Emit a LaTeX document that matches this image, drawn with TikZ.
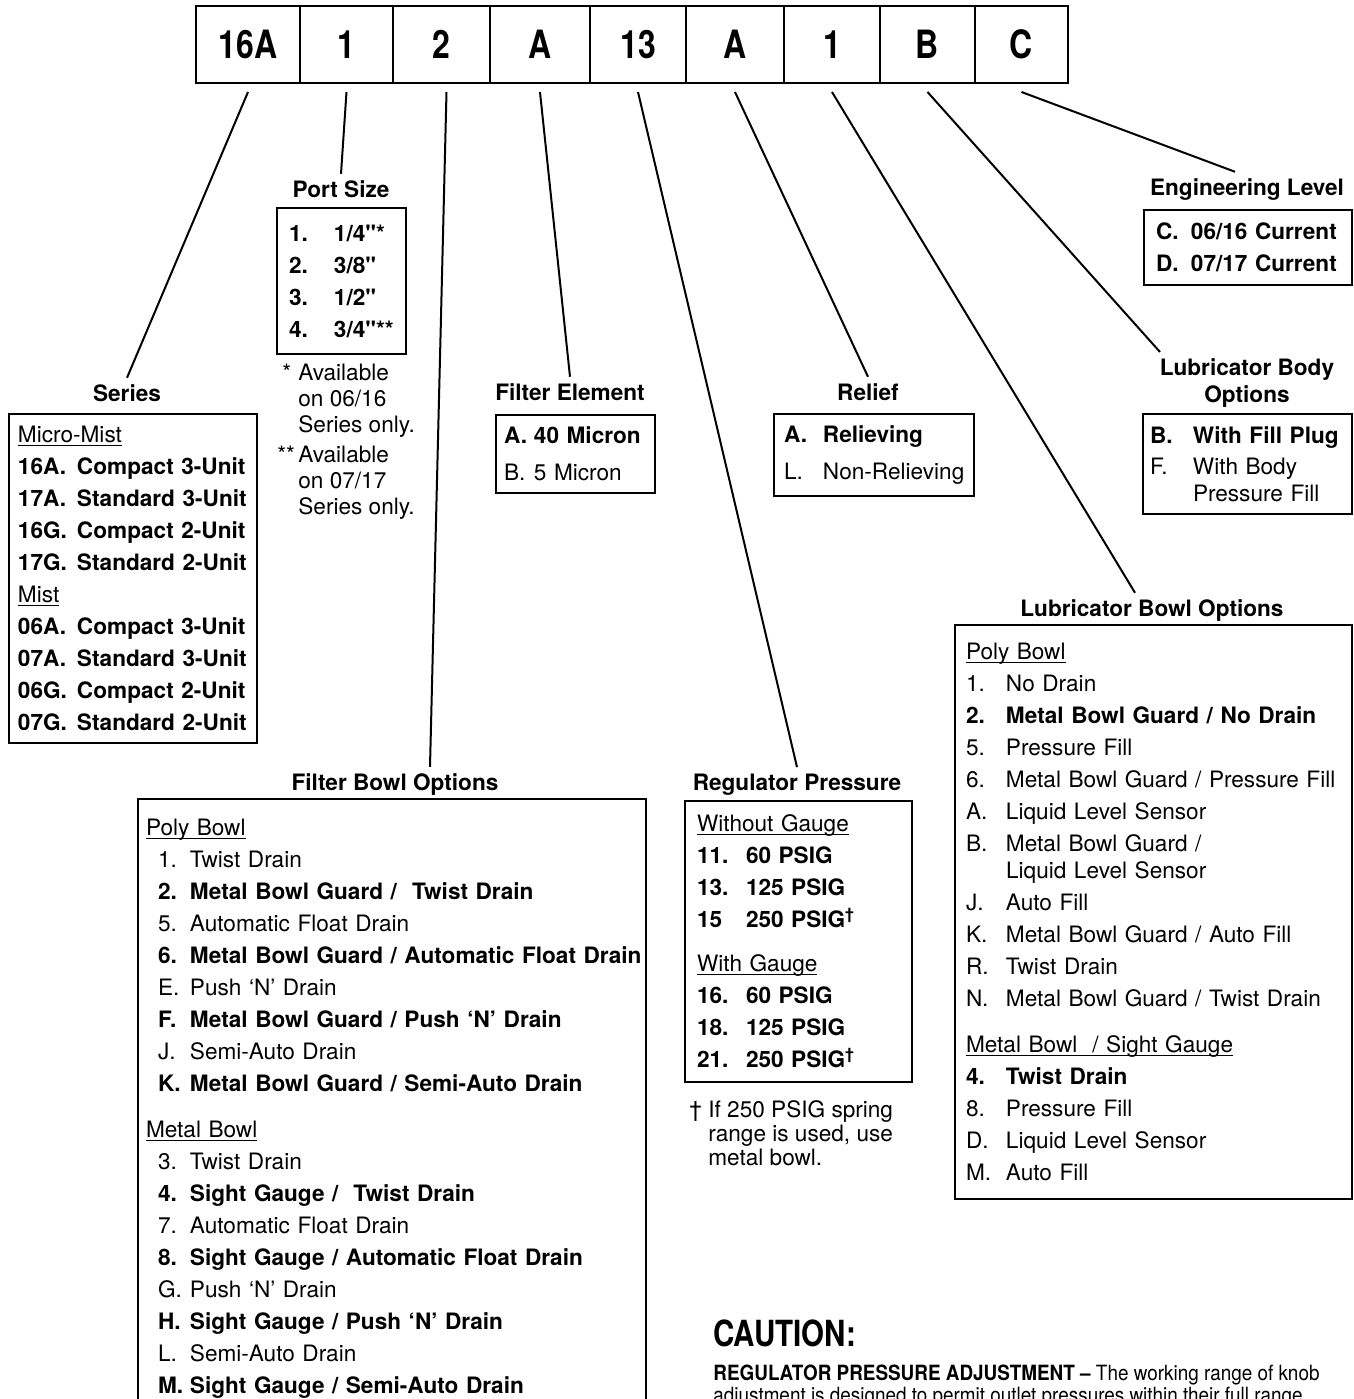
\documentclass[tikz,border=0pt]{standalone}
\usepackage{fontspec}
\setmainfont{TeX Gyre Heros}
\newfontfamily\condfont[FakeStretch=0.82]{TeX Gyre Heros}
\newfontfamily\narrowfont[FakeStretch=0.9]{TeX Gyre Heros}
\usetikzlibrary{positioning}

% one option line: fixed-width label, then the text
\newlength{\itmw}
\newcommand{\itm}[2]{\makebox[\itmw][l]{#1}\mbox{#2}}
\newcommand{\bitm}[2]{\textbf{\itm{#1}{#2}}}
% group heading, underlined close to the baseline
\newcommand{\grp}[1]{\underline{\raisebox{0pt}[\height][0pt]{#1}}}
\newcommand{\inch}{\textquotedbl}

\begin{document}
\begin{tikzpicture}[x=0.5pt, y=-0.5pt]
	\tikzstyle{codebox} = [draw, line width=1.3pt, minimum height=38.5pt, inner sep=0pt, outer sep=0pt, font=\condfont\bfseries\fontsize{19.5}{20}\selectfont]
	\tikzstyle{title} = [anchor=base, inner sep=3pt, align=center, font=\bfseries\fontsize{11.3}{13.5}\selectfont]
	\tikzstyle{optbox} = [draw, line width=1pt, anchor=north west, inner xsep=5pt, inner ysep=4pt, align=left, font=\fontsize{11.3}{16}\selectfont]
	\tikzstyle{note} = [anchor=north west, inner sep=0pt, align=left, font=\fontsize{11.3}{13}\selectfont]
	\tikzstyle{lead} = [line width=1pt]
	\useasboundingbox (0,0) rectangle (1354,1399);

	% the model code
	\coordinate (c0) at (196,44.5);
	\foreach \code/\w [count=\i, remember=\i as \j (initially 0)] in {16A/52, 1/46.5, 2/48.5, A/50, 13/48, A/49, 1/48, B/47.5, C/46.5}
		\node[codebox, minimum width=\w pt, right=0pt of c\j] (c\i) {\code};

	% headings
	\node[title] (serT) at (127,401) {Series};
	\node[title] (portT) at (341,197) {Port Size};
	\node[title] (felT) at (570,400) {Filter Element};
	\node[title] (relT) at (868,400) {Relief};
	\node[title] (engT) at (1247,195) {Engineering Level};
	\node[title, anchor=north] (lbodyT) at (1247,352) {Lubricator Body\\Options};
	\node[title] (lbowlT) at (1152,616) {Lubricator Bowl Options};
	\node[title] (fbowlT) at (395,790) {Filter Bowl Options};
	\node[title] (regT) at (797,790) {Regulator Pressure};

	% option boxes
	\node[optbox, inner xsep=4.5pt, text width=115pt, minimum height=164.5pt] (ser) at (8,413) {\setlength{\itmw}{29.5pt}%
		\grp{Micro-Mist}\\
		\bitm{16A.}{Compact 3-Unit}\\
		\bitm{17A.}{Standard 3-Unit}\\
		\bitm{16G.}{Compact 2-Unit}\\
		\bitm{17G.}{Standard 2-Unit}\\
		\grp{Mist}\\
		\bitm{06A.}{Compact 3-Unit}\\
		\bitm{07A.}{Standard 3-Unit}\\
		\bitm{06G.}{Compact 2-Unit}\\
		\bitm{07G.}{Standard 2-Unit}};

	\node[optbox, inner xsep=6pt, text width=52.5pt, minimum height=73pt] (port) at (276,207) {\setlength{\itmw}{22.5pt}%
		\bitm{1.}{1/4\inch*}\\
		\bitm{2.}{3/8\inch}\\
		\bitm{3.}{1/2\inch}\\
		\bitm{4.}{3/4\inch**}};
	\node[note] (portN1) at (282,364) {\makebox[8pt][l]{*}Available\\\hspace*{8pt}on 06/16\\\hspace*{8pt}Series only.};
	\node[note] (portN2) at (277,446) {\makebox[10.5pt][l]{**}Available\\\hspace*{10.5pt}on 07/17\\\hspace*{10.5pt}Series only.};

	\node[optbox, inner xsep=4pt, text width=71.5pt, minimum height=39pt, font=\fontsize{11.3}{18.5}\selectfont] (fel) at (495,414) {\setlength{\itmw}{15pt}%
		\bitm{A.}{40 Micron}\\
		\itm{B.}{5 Micron}};

	\node[optbox, text width=90pt, minimum height=41pt, font=\fontsize{11.3}{18.5}\selectfont] (rel) at (773,413) {\setlength{\itmw}{19.5pt}%
		\bitm{A.}{Relieving}\\
		\itm{L.}{Non-Relieving}};

	\node[optbox, inner xsep=6pt, text width=92pt, minimum height=37.5pt] (eng) at (1143,209) {\setlength{\itmw}{17.5pt}%
		\bitm{C.}{06/16 Current}\\
		\bitm{D.}{07/17 Current}};

	\node[optbox, inner xsep=3.5pt, text width=97.5pt, minimum height=50pt] (lbody) at (1142,413) {\setlength{\itmw}{21.5pt}%
		\bitm{B.}{With Fill Plug}\\[-0.5pt]
		\itm{F.}{With Body}\\[-2.5pt]
		\hspace*{\itmw}Pressure Fill};

	\node[optbox, inner xsep=5.5pt, text width=187.5pt, minimum height=287pt] (lbowl) at (954,624) {\setlength{\itmw}{20pt}%
		\grp{Poly Bowl}\\
		\itm{1.}{No Drain}\\
		\bitm{2.}{Metal Bowl Guard / No Drain}\\
		\itm{5.}{Pressure Fill}\\
		\itm{6.}{Metal Bowl Guard / Pressure Fill}\\
		\itm{A.}{Liquid Level Sensor}\\
		\itm{B.}{Metal Bowl Guard /}\\[-2.5pt]
		\hspace*{\itmw}Liquid Level Sensor\\
		\itm{J.}{Auto Fill}\\
		\itm{K.}{Metal Bowl Guard / Auto Fill}\\
		\itm{R.}{Twist Drain}\\
		\itm{N.}{Metal Bowl Guard / Twist Drain}\\[7pt]
		\grp{Metal Bowl \ / Sight Gauge}\\
		\bitm{4.}{Twist Drain}\\
		\itm{8.}{Pressure Fill}\\
		\itm{D.}{Liquid Level Sensor}\\
		\itm{M.}{Auto Fill}};

	\node[optbox, inner xsep=4pt, inner ysep=10pt, text width=246pt] (fbowl) at (137,798) {\setlength{\itmw}{16pt}%
		\grp{Poly Bowl}\\
		\hspace*{6pt}\itm{1.}{Twist Drain}\\
		\hspace*{6pt}\bitm{2.}{Metal Bowl Guard / \ Twist Drain}\\
		\hspace*{6pt}\itm{5.}{Automatic Float Drain}\\
		\hspace*{6pt}\bitm{6.}{Metal Bowl Guard / Automatic Float Drain}\\
		\hspace*{6pt}\itm{E.}{Push ‘N’ Drain}\\
		\hspace*{6pt}\bitm{F.}{Metal Bowl Guard / Push ‘N’ Drain}\\
		\hspace*{6pt}\itm{J.}{Semi-Auto Drain}\\
		\hspace*{6pt}\bitm{K.}{Metal Bowl Guard / Semi-Auto Drain}\\[7pt]
		\grp{Metal Bowl}\\
		\hspace*{6pt}\itm{3.}{Twist Drain}\\
		\hspace*{6pt}\bitm{4.}{Sight Gauge / \ Twist Drain}\\
		\hspace*{6pt}\itm{7.}{Automatic Float Drain}\\
		\hspace*{6pt}\bitm{8.}{Sight Gauge / Automatic Float Drain}\\
		\hspace*{6pt}\itm{G.}{Push ‘N’ Drain}\\
		\hspace*{6pt}\bitm{H.}{Sight Gauge / Push ‘N’ Drain}\\
		\hspace*{6pt}\itm{L.}{Semi-Auto Drain}\\
		\hspace*{6pt}\bitm{M.}{Sight Gauge / Semi-Auto Drain}};

	\node[optbox, inner xsep=6pt, text width=101.5pt, minimum height=140.5pt] (reg) at (684,800) {\setlength{\itmw}{24.5pt}%
		\grp{Without Gauge}\\
		\bitm{11.}{60 PSIG}\\
		\bitm{13.}{125 PSIG}\\
		\bitm{15}{250 PSIG\textsuperscript{†}}\\[6pt]
		\grp{With Gauge}\\
		\bitm{16.}{60 PSIG}\\
		\bitm{18.}{125 PSIG}\\
		\bitm{21.}{250 PSIG\textsuperscript{†}}};
	\node[note, font=\fontsize{11.3}{12}\selectfont] (regN) at (689,1100) {\makebox[9.5pt][l]{†}If 250 PSIG spring\\\hspace*{9.5pt}range is used, use\\\hspace*{9.5pt}metal bowl.};

	% leads from the code to the headings
	\draw[lead] ([yshift=-4.5pt]c1.south) -- (serT.north);
	\draw[lead] ([yshift=-4.5pt]c2.south) -- (portT.north);
	\draw[lead] ([xshift=2.5pt, yshift=-4.5pt]c3.south) -- ([xshift=17.5pt]fbowlT.north);
	\draw[lead] ([yshift=-4.5pt]c4.south) -- (felT.north);
	\draw[lead] ([yshift=-4.5pt]c5.south) -- (regT.north);
	\draw[lead] ([yshift=-4.5pt]c6.south) -- (relT.north);
	\draw[lead] ([yshift=-4.5pt]c7.south) -- ([xshift=-8.5pt]lbowlT.north);
	\draw[lead] ([yshift=-4.5pt]c8.south) -- ([xshift=-43.5pt]lbodyT.north);
	\draw[lead] ([yshift=-4.5pt]c9.south) -- ([xshift=-6pt]engT.north);

	% caution text
	\node[anchor=base west, inner sep=0pt, font=\condfont\bfseries\fontsize{18}{20}\selectfont] (caut) at (713,1346) {CAUTION:};
	\node[note, font=\narrowfont\fontsize{10.5}{11}\selectfont] (cautT) at (713,1365) {\textbf{REGULATOR PRESSURE ADJUSTMENT –} The working range of knob\\adjustment is designed to permit outlet pressures within their full range.};
\end{tikzpicture}
\end{document}
